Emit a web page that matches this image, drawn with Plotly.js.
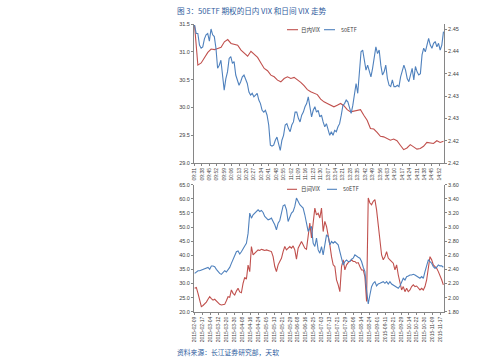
<!DOCTYPE html>
<html>
<head>
<meta charset="utf-8">
<script src="https://cdn.plot.ly/plotly-3.0.1.min.js"></script>
<style>
html,body{margin:0;padding:0;background:#fff;}
#chart{width:499px;height:364px;}
</style>
</head>
<body>
<div id="chart"></div>
<script>
// ---------- Top chart: intraday (minute) ----------
const timeLabels = ['09:31','09:38','09:45','09:52','09:59','10:06','10:13','10:20','10:27','10:34','10:41','10:48','10:55','11:02','11:09','11:16','11:23','11:30','13:07','13:14','13:21','13:28','13:35','13:42','13:49','13:56','14:03','14:10','14:17','14:24','14:31','14:38','14:45','14:52'];
const minuteCount = 236;

const intradayVIX = [31.48,30.76,30.80,30.90,30.99,31.05,31.04,31.06,31.08,31.18,31.22,31.15,31.13,31.12,31.03,30.98,30.92,31.01,30.95,30.90,
  30.80,30.70,30.66,30.58,30.55,30.49,30.46,30.52,30.55,30.52,30.54,30.50,30.45,30.39,30.32,30.28,30.26,30.23,30.15,30.10,
  30.07,30.04,30.01,30.04,30.07,30.03,29.96,29.92,29.93,29.95,29.96,29.86,29.77,29.62,29.61,29.55,29.48,29.47,29.44,29.41,
  29.43,29.40,29.32,29.24,29.27,29.33,29.29,29.25,29.26,29.30,29.37,29.36,29.35,29.40,29.37,29.39];

const etfIntraday = [2.4459,2.4440,2.4440,2.4414,2.4407,2.4410,2.4428,2.4437,2.4440,2.4423,2.4450,2.4437,2.4433,2.4407,2.4362,2.4369,2.4380,2.4343,2.4313,2.4339,
  2.4354,2.4384,2.4388,2.4373,2.4377,2.4347,2.4336,2.4324,2.4332,2.4343,2.4347,2.4339,2.4328,2.4309,2.4302,2.4306,2.4298,2.4302,2.4306,2.4291,
  2.4283,2.4268,2.4264,2.4268,2.4257,2.4235,2.4190,2.4188,2.4190,2.4201,2.4208,2.4193,2.4178,2.4201,2.4212,2.4235,2.4238,2.4227,2.4220,2.4235,
  2.4242,2.4264,2.4264,2.4250,2.4242,2.4257,2.4264,2.4276,2.4283,2.4298,2.4279,2.4253,2.4268,2.4276,2.4264,2.4268,2.4253,2.4257,2.4242,2.4231,
  2.4238,2.4223,2.4212,2.4220,2.4212,2.4223,2.4220,2.4231,2.4238,2.4257,2.4279,2.4283,2.4291,2.4287,2.4272,2.4261,2.4279,2.4302,2.4328,2.4306,
  2.4354,2.4399,2.4403,2.4384,2.4358,2.4369,2.4354,2.4343,2.4362,2.4392,2.4410,2.4395,2.4403,2.4369,2.4347,2.4354,2.4369,2.4339,2.4324,2.4321,
  2.4336,2.4321,2.4321,2.4324,2.4321,2.4343,2.4354,2.4369,2.4358,2.4339,2.4332,2.4350,2.4362,2.4336,2.4366,2.4354,2.4347,2.4350,2.4392,2.4407,
  2.4399,2.4414,2.4429,2.4414,2.4407,2.4418,2.4422,2.4410,2.4418,2.4403,2.4414,2.4444];

const rightTopTickVals = [2.415,2.420,2.425,2.430,2.435,2.440,2.445];
const rightTopTickText = ['2.42','2.42','2.43','2.43','2.44','2.44','2.45'];

// ---------- Bottom chart: daily ----------
const dateLabels = ['2015-02-09','2015-02-17','2015-03-04','2015-03-12','2015-03-20','2015-03-30','2015-04-08','2015-04-16','2015-04-24','2015-05-05','2015-05-13','2015-05-21','2015-05-29','2015-06-08','2015-06-16','2015-06-25','2015-07-03','2015-07-13','2015-07-21','2015-07-29','2015-08-06','2015-08-14','2015-08-24','2015-09-01','2015-09-11','2015-09-21','2015-09-29','2015-10-14','2015-10-22','2015-10-30','2015-11-09','2015-11-17'];
const dayCount = 189;

const dailyVIX = [28.3,28.6,26.5,23.9,21.8,22.2,22.8,23.4,24.4,25.3,24.6,24.1,24.4,23.8,23.1,22.6,22.4,22.4,22.6,23.9,
  25.3,25.1,27.7,26.5,25.9,27.3,28.3,27.0,26.7,30.0,32.2,31.5,36.5,
  34.2,43.1,40.1,40.7,41.3,41.9,41.7,42.1,41.9,41.7,41.9,41.7,41.7,41.3,39.5,36.0,34.2,36.6,37.8,38.9,
  41.3,43.1,41.9,42.5,43.1,42.5,43.3,41.9,38.6,42.5,43.7,44.9,43.7,42.5,42.1,47.2,51.4,46.1,50.8,56.7,
  54.3,54.9,53.2,56.7,48.4,52.0,50.2,47.2,43.7,39.5,36.6,36.0,31.3,29.5,27.1,36.0,38.4,34.8,36.6,37.4,
  37.8,38.4,37.8,37.8,37.2,37.4,36.0,34.8,34.8,32.4,23.6,60.3,58.5,57.9,59.1,59.7,56.1,50.2,43.7,40.1,
  38.4,39.5,41.3,39.0,38.4,37.8,37.2,34.8,36.6,33.0,30.1,27.7,28.9,27.1,28.3,27.1,27.7,28.9,29.5,28.9,
  29.1,28.3,27.7,28.3,27.7,28.9,31.3,35.4,39.5,38.4,36.6,36.0,35.4,34.2,33.0,31.3,29.5];

const etfDaily = [2.343,2.362,2.381,2.381,2.391,2.400,2.400,2.414,2.428,2.400,2.447,2.447,2.438,2.400,2.367,2.343,2.329,2.353,2.381,2.362,
  2.391,2.428,2.485,2.542,2.603,2.650,2.660,2.617,2.650,2.698,2.731,2.769,2.910,
  3.197,3.126,3.174,3.197,3.235,3.245,3.221,3.235,3.207,3.150,3.126,3.103,3.112,3.126,3.079,3.032,2.961,3.055,3.093,3.197,
  3.302,3.316,3.245,3.079,3.150,3.197,3.221,3.292,3.411,3.363,3.316,3.292,3.268,3.174,3.055,2.937,2.984,3.008,2.771,2.724,
  2.842,2.676,2.629,2.724,2.605,2.771,2.889,2.866,2.747,2.795,2.771,2.795,2.771,2.747,2.653,2.534,2.463,2.511,2.534,2.511,
  2.511,2.544,2.558,2.605,2.582,2.572,2.558,2.511,2.430,2.368,2.108,1.909,2.037,2.155,2.203,2.226,2.165,2.193,2.203,2.212,
  2.226,2.203,2.226,2.193,2.226,2.193,2.179,2.165,2.155,2.132,2.165,2.226,2.274,2.250,2.297,2.307,2.321,2.321,2.331,2.321,
  2.307,2.297,2.274,2.297,2.274,2.368,2.463,2.534,2.511,2.487,2.439,2.416,2.430,2.463,2.449,2.449,2.430];

// ---------- styling ----------
const RED = '#C0504D', BLUE = '#4F81BD';
const AX = '#868686', TXT = '#404040', TITLE = '#2F5C9E';
const W = 499, H = 364;
const px = v => v / W, py = v => 1 - v / H;
const spread = (arr, maxX) => arr.map((v, i) => i * maxX / (arr.length - 1));

const traces = [
  {x: spread(intradayVIX, minuteCount - 1), y: intradayVIX, name: '日内VIX', type: 'scatter', mode: 'lines',
   line: {color: RED, width: 1.1}, xaxis: 'x', yaxis: 'y', showlegend: false},
  {x: spread(etfIntraday, minuteCount - 1), y: etfIntraday, name: '50ETF', type: 'scatter', mode: 'lines',
   line: {color: BLUE, width: 1.1}, xaxis: 'x', yaxis: 'y2', showlegend: false},
  {x: spread(dailyVIX, dayCount - 1), y: dailyVIX, name: '日间VIX', type: 'scatter', mode: 'lines',
   line: {color: RED, width: 1.1}, xaxis: 'x2', yaxis: 'y3', showlegend: false},
  {x: spread(etfDaily, dayCount - 1), y: etfDaily, name: '50ETF', type: 'scatter', mode: 'lines',
   line: {color: BLUE, width: 1.1}, xaxis: 'x2', yaxis: 'y4', showlegend: false}
];

const tickFont = {family: 'Liberation Sans, Arial, sans-serif', size: 5.5, color: TXT};
const xTickFont = {family: 'Liberation Sans, Arial, sans-serif', size: 5, color: TXT};
const baseAxis = {showgrid: false, zeroline: false, showline: true, linecolor: AX, linewidth: 1,
  ticks: 'outside', ticklen: 2, tickcolor: AX, fixedrange: true};
const xDomain = [px(194), px(444)];

const layout = {
  width: W, height: H, margin: {l: 0, r: 0, t: 0, b: 0},
  paper_bgcolor: '#fff', plot_bgcolor: 'rgba(0,0,0,0)', showlegend: false,
  xaxis: Object.assign({}, baseAxis, {domain: xDomain, anchor: 'y', range: [-0.5, minuteCount - 0.5],
    tickmode: 'array', tickvals: timeLabels.map((t, i) => i * 7), ticktext: timeLabels,
    tickangle: -90, tickfont: xTickFont}),
  yaxis: Object.assign({}, baseAxis, {domain: [py(163), py(24)], anchor: 'x', range: [29, 31.5],
    dtick: 0.5, tick0: 29, tickformat: '.1f', tickfont: tickFont}),
  yaxis2: Object.assign({}, baseAxis, {overlaying: 'y', side: 'right', anchor: 'x', range: [2.415, 2.44612],
    tickmode: 'array', tickvals: rightTopTickVals, ticktext: rightTopTickText, tickfont: tickFont}),
  xaxis2: Object.assign({}, baseAxis, {domain: xDomain, anchor: 'y3', range: [-0.5, dayCount - 0.5],
    tickmode: 'array', tickvals: dateLabels.map((t, i) => i * 6), ticktext: dateLabels,
    tickangle: -90, tickfont: xTickFont}),
  yaxis3: Object.assign({}, baseAxis, {domain: [py(311.7), py(184.7)], anchor: 'x2', range: [20, 65],
    dtick: 5, tick0: 20, tickformat: '.1f', tickfont: tickFont}),
  yaxis4: Object.assign({}, baseAxis, {overlaying: 'y3', side: 'right', anchor: 'x2', range: [1.8, 3.6],
    dtick: 0.2, tick0: 1.8, tickformat: '.2f', tickfont: tickFont}),
  shapes: [
    {type: 'line', xref: 'paper', yref: 'paper', x0: px(287), x1: px(298), y0: py(29.7), y1: py(29.7), line: {color: RED, width: 1.1}},
    {type: 'line', xref: 'paper', yref: 'paper', x0: px(324), x1: px(335), y0: py(29.7), y1: py(29.7), line: {color: BLUE, width: 1.1}},
    {type: 'line', xref: 'paper', yref: 'paper', x0: px(287), x1: px(297), y0: py(189.3), y1: py(189.3), line: {color: RED, width: 1.1}},
    {type: 'line', xref: 'paper', yref: 'paper', x0: px(327), x1: px(337), y0: py(189.3), y1: py(189.3), line: {color: BLUE, width: 1.1}}
  ],
  annotations: [
    {text: '图 3：50ETF 期权的日内 VIX 和日间 VIX 走势', xref: 'paper', yref: 'paper', x: px(175), y: py(10),
     xanchor: 'left', yanchor: 'middle', showarrow: false,
     font: {family: 'Noto Sans CJK SC, sans-serif', size: 7.6, color: TITLE}},
    {text: '资料来源：长江证券研究部，天软', xref: 'paper', yref: 'paper', x: px(175), y: py(352),
     xanchor: 'left', yanchor: 'middle', showarrow: false,
     font: {family: 'Noto Sans CJK SC, sans-serif', size: 6.8, color: TITLE}},
    {text: '日内VIX', xref: 'paper', yref: 'paper', x: px(299), y: py(29.7), xanchor: 'left', yanchor: 'middle',
     showarrow: false, font: {family: 'Noto Sans CJK SC, sans-serif', size: 5.5, color: TXT}},
    {text: '50ETF', xref: 'paper', yref: 'paper', x: px(338.5), y: py(29.7), xanchor: 'left', yanchor: 'middle',
     showarrow: false, font: {family: 'Noto Sans CJK SC, sans-serif', size: 5.5, color: TXT}},
    {text: '日间VIX', xref: 'paper', yref: 'paper', x: px(298.5), y: py(189.3), xanchor: 'left', yanchor: 'middle',
     showarrow: false, font: {family: 'Noto Sans CJK SC, sans-serif', size: 5.5, color: TXT}},
    {text: '50ETF', xref: 'paper', yref: 'paper', x: px(340.5), y: py(189.3), xanchor: 'left', yanchor: 'middle',
     showarrow: false, font: {family: 'Noto Sans CJK SC, sans-serif', size: 5.5, color: TXT}}
  ]
};

Plotly.newPlot('chart', traces, layout, {displayModeBar: false, staticPlot: true});
</script>
</body>
</html>
